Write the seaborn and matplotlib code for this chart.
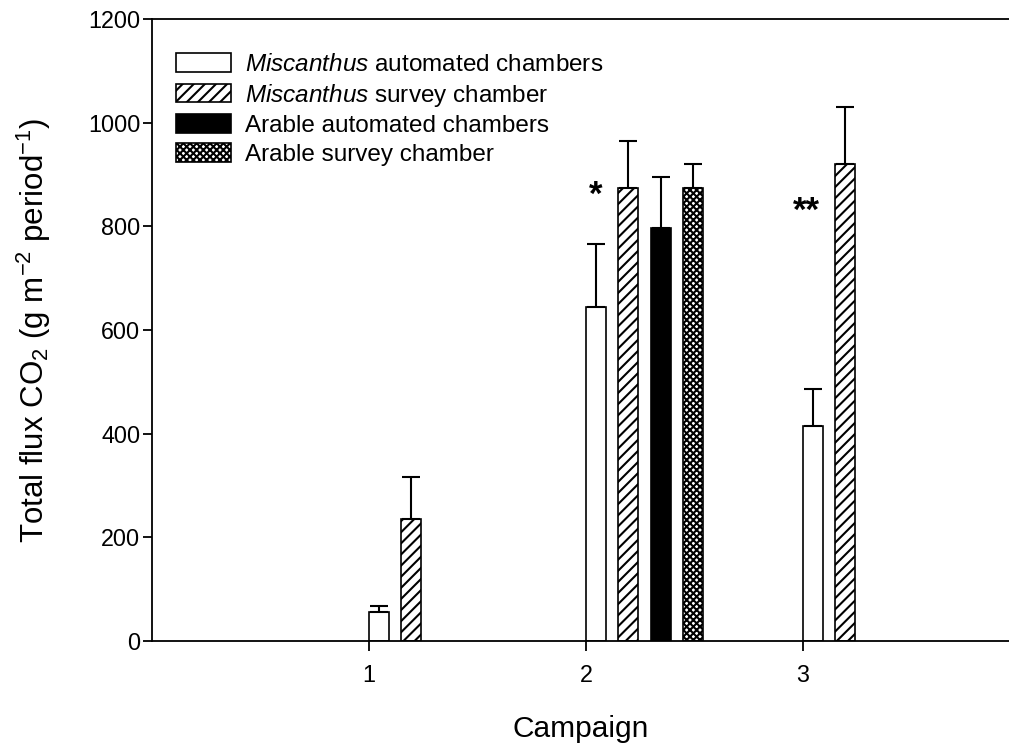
import numpy as np
import pandas as pd
import matplotlib
matplotlib.use("Agg")
import matplotlib.pyplot as plt
import seaborn as sns

# ---- data -------------------------------------------------------------
campaigns = [1, 2, 3]
treatments = [
    "Miscanthus automated chambers",
    "Miscanthus survey chamber",
    "Arable automated chambers",
    "Arable survey chamber",
]
legend_labels = [
    r"$\it{Miscanthus}$ automated chambers",
    r"$\it{Miscanthus}$ survey chamber",
    "Arable automated chambers",
    "Arable survey chamber",
]
# total CO2 flux (g m-2 period-1) and standard errors; NaN = not measured
misc_auto = [55, 645, 415]
misc_auto_se = [13, 121, 72]
misc_survey = [235, 874, 921]
misc_survey_se = [82, 91, 109]
arable_auto = [np.nan, 797, np.nan]
arable_auto_se = [np.nan, 98, np.nan]
arable_survey = [np.nan, 874, np.nan]
arable_survey_se = [np.nan, 46, np.nan]

# significance markers (campaign, label, height)
sig_campaigns = [2, 3]
sig_labels = ["*", "**"]
sig_heights = [860, 828]

# ---- tidy frame ---------------------------------------------------------
values = [misc_auto, misc_survey, arable_auto, arable_survey]
errors = [misc_auto_se, misc_survey_se, arable_auto_se, arable_survey_se]
rows = []
for t, vals, errs in zip(treatments, values, errors):
    for c, v, e in zip(campaigns, vals, errs):
        if not np.isnan(v):
            rows.append({"campaign": c, "treatment": t, "flux": v, "se": e})
df = pd.DataFrame(rows)

# bars start at the campaign tick and extend to the right
GROUP_SHIFT = 0.27
df["xpos"] = df["campaign"] + GROUP_SHIFT

# ---- style --------------------------------------------------------------
sns.set_style("ticks")
plt.rcParams["font.family"] = ["Liberation Sans", "DejaVu Sans"]
plt.rcParams["mathtext.fontset"] = "custom"
plt.rcParams["mathtext.rm"] = "Liberation Sans"
plt.rcParams["mathtext.it"] = "Liberation Sans:italic"
plt.rcParams["mathtext.bf"] = "Liberation Sans:bold"
plt.rcParams["hatch.linewidth"] = 1.5
plt.rcParams["axes.linewidth"] = 1.3
for key in ["text.color", "axes.labelcolor", "xtick.color", "ytick.color",
            "axes.edgecolor"]:
    plt.rcParams[key] = "black"

fig = plt.figure(figsize=(10.09, 7.47), dpi=100)
ax = fig.add_axes([152 / 1009, 1 - 641 / 747, 1 - 152 / 1009, (641 - 19) / 747])

palette = {
    treatments[0]: "white",
    treatments[1]: "white",
    treatments[2]: "black",
    treatments[3]: "white",
}
sns.barplot(
    data=df, x="xpos", y="flux", hue="treatment", hue_order=treatments,
    palette=palette, native_scale=True, width=0.598, gap=0.385,
    errorbar=None, edgecolor="black", linewidth=1.2, saturation=1,
    legend=False, ax=ax,
)

hatches = ["", "///", "", "xxxxx"]
for cont, h, t in zip(ax.containers, hatches, treatments):
    sub = df[df["treatment"] == t].sort_values("xpos")
    xs, ys = [], []
    for bar in cont.patches:
        bar.set_hatch(h)
        bar.set_edgecolor("black")
        xs.append(bar.get_x() + bar.get_width() / 2)
        ys.append(bar.get_height())
    ax.errorbar(xs, ys, yerr=[np.zeros(len(sub)), sub["se"].to_numpy()],
                fmt="none", ecolor="black", elinewidth=1.5, capsize=6.8,
                capthick=1.5, zorder=1)

# significance asterisks above the automated Miscanthus bars
first = ax.containers[0]
for c, lab, hgt in zip(sig_campaigns, sig_labels, sig_heights):
    idx = campaigns.index(c)
    bar = first.patches[idx]
    xc = bar.get_x() + bar.get_width() / 2 - 0.03 * (len(lab) - 1)
    ax.text(xc, hgt, lab, ha="center", va="center", fontsize=25,
            fontweight="bold")

# ---- axes ---------------------------------------------------------------
ax.set_xlim(0, 3.95)
ax.set_ylim(0, 1200)
ax.set_xticks(campaigns)
ax.set_xticklabels([str(c) for c in campaigns])
ax.set_yticks(np.arange(0, 1201, 200))
ax.spines["right"].set_visible(False)
ax.spines["top"].set_visible(True)
ax.tick_params(axis="y", length=6.5, width=1.3, pad=2, labelsize=16.8)
ax.tick_params(axis="x", length=7.5, width=1.3, pad=9, labelsize=16.8)
ax.set_xlabel("Campaign", fontsize=21.5, labelpad=20)
ax.set_ylabel(r"Total flux CO$_2$ (g m$^{-2}$ period$^{-1}$)", fontsize=22.5,
              labelpad=25)

ax.legend(ax.containers, legend_labels, loc="upper left",
          bbox_to_anchor=(176 / 1009, 1 - 53 / 747), bbox_transform=fig.transFigure,
          frameon=False, fontsize=17.5, handlelength=2.27, handleheight=0.8,
          handletextpad=0.55, labelspacing=0.24, borderpad=0, borderaxespad=0)

fig.savefig("out.png", dpi=100)
